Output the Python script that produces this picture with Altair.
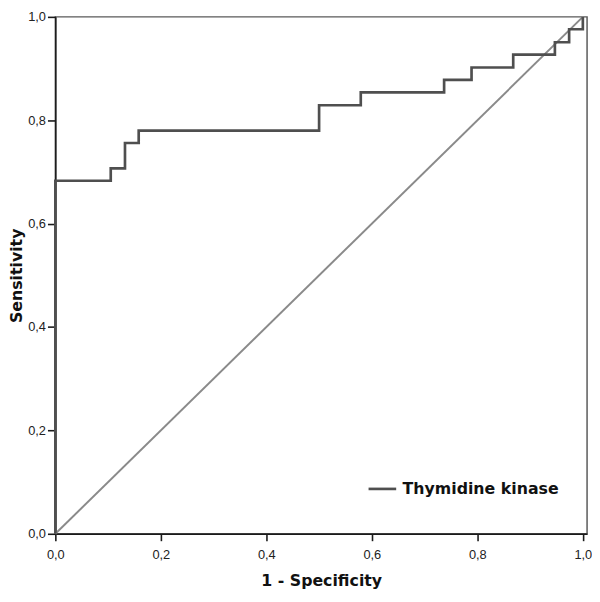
import altair as alt
import pandas as pd

# ROC curve (jump points, step-after)
fpr = [0.0, 0.0, 0.105, 0.132, 0.158, 0.500, 0.579, 0.737, 0.789, 0.868, 0.947, 0.974, 1.0]
tpr = [0.0, 0.683, 0.707, 0.756, 0.780, 0.829, 0.854, 0.878, 0.902, 0.927, 0.951, 0.976, 1.0]
series_name = "Thymidine kinase"

diag_x = [0.0, 1.0]
diag_y = [0.0, 1.0]

tick_values = [0.0, 0.2, 0.4, 0.6, 0.8, 1.0]

curve_df = pd.DataFrame({"x": fpr, "y": tpr, "order": list(range(len(fpr))), "series": series_name})
diag_df = pd.DataFrame({"x": diag_x, "y": diag_y})

label_expr = "replace(format(datum.value, '.1f'), '.', ',')"

x_scale = alt.Scale(domain=[0, 1.008], nice=False, zero=False)
y_scale = alt.Scale(domain=[0, 1.0], nice=False, zero=False)

x_axis = alt.Axis(
    title="1 - Specificity", values=tick_values, labelExpr=label_expr, grid=False,
    tickSize=7, labelPadding=8, titlePadding=11, labelFlush=False,
)
y_axis = alt.Axis(
    title="Sensitivity", values=tick_values, labelExpr=label_expr, grid=False,
    tickSize=8, labelPadding=2, titlePadding=3, labelFlush=False,
)

diag = alt.Chart(diag_df).mark_line(color="#8a8a8a", strokeWidth=2).encode(
    x=alt.X("x:Q", scale=x_scale, axis=x_axis),
    y=alt.Y("y:Q", scale=y_scale, axis=y_axis),
)

curve = alt.Chart(curve_df).mark_line(interpolate="step-after", strokeWidth=2.7).encode(
    x=alt.X("x:Q", scale=x_scale, axis=x_axis),
    y=alt.Y("y:Q", scale=y_scale, axis=y_axis),
    order="order:Q",
    color=alt.Color(
        "series:N",
        scale=alt.Scale(range=["#4f4f4f"]),
        legend=alt.Legend(
            title=None, orient="none", legendX=316, legendY=463,
            symbolType="stroke", symbolSize=784, symbolStrokeWidth=2.7,
            labelFont="DejaVu Sans", labelFontWeight="bold", labelFontSize=16,
            labelColor="#111", labelOffset=5, padding=0,
        ),
    ),
)

chart = alt.layer(diag, curve).properties(
    width=539, height=524,
    background="white",
    autosize=alt.AutoSizeParams(type="none"),
    padding={"left": 48, "top": 5, "right": 5, "bottom": 55},
).configure_view(
    stroke="#5a5a5a", strokeWidth=1.5,
).configure_axis(
    domainColor="#1a1a1a", domainWidth=1.6, tickColor="#1a1a1a", tickWidth=1.6,
    labelFont="Liberation Sans", labelFontSize=13, labelColor="#222",
    titleFont="DejaVu Sans", titleFontSize=16, titleFontWeight="bold", titleColor="#111",
)

chart.save("out.html", embed_options={"renderer": "svg", "actions": False})
